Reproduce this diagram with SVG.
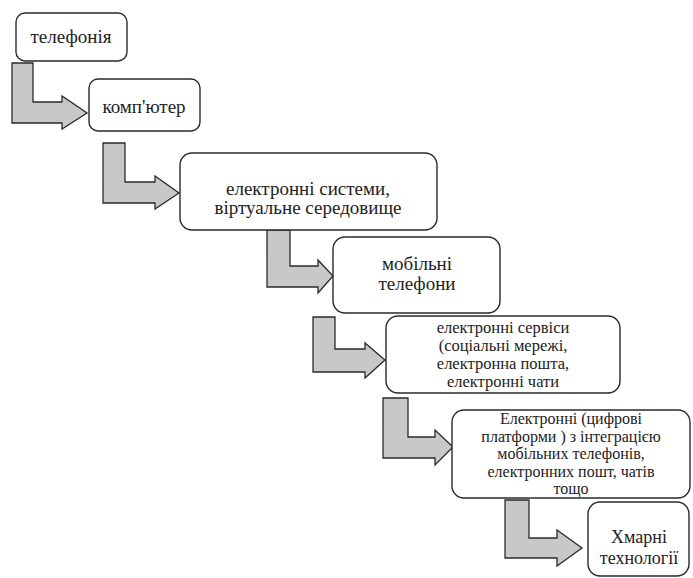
<svg xmlns="http://www.w3.org/2000/svg" width="693" height="578" viewBox="0 0 693 578">
<style>
.box{fill:#fff;stroke:#2a2a2a;stroke-width:1.4}
.arr{fill:#c8c8c8;stroke:#2a2a2a;stroke-width:1.3;stroke-linejoin:miter}
text{font-family:"Liberation Serif","Times New Roman","DejaVu Serif",serif;font-size:18px;fill:#222;text-anchor:middle}
.big{font-size:19px}
.s5{font-size:16.5px}
.s6{font-size:16px}
</style>
<rect width="693" height="578" fill="#fff"/>
<g id="connectors">
<path class="arr" d="M12,63 L33,63 L33,102 L62,102 L62,96 L87,113 L62,129 L62,123 L12,123 Z"/>
<path class="arr" d="M103,143 L125,143 L125,182 L155,182 L155,176 L179,193 L155,209 L155,203 L103,203 Z"/>
<path class="arr" d="M267,230 L290,230 L290,266 L318,266 L318,260 L333,276 L318,293 L318,287 L267,287 Z"/>
<path class="arr" d="M313,317 L335,317 L335,349 L365,349 L365,343 L385,360 L365,378 L365,372 L313,372 Z"/>
<path class="arr" d="M383,398 L408,398 L408,437 L435,437 L435,430 L453,447 L435,465 L435,458 L383,458 Z"/>
<path class="arr" d="M505,500 L529,500 L529,538 L557,538 L557,530 L582,548 L557,566 L557,558 L505,558 Z"/>
</g>
<g id="n1">
<rect class="box" x="16" y="13" width="111" height="48" rx="9"/>
<text class="big" x="71" y="43">телефонія</text>
</g>
<g id="n2">
<rect class="box" x="89" y="79" width="111" height="52" rx="9"/>
<text class="big" x="144" y="113">комп'ютер</text>
</g>
<g id="n3">
<rect class="box" x="180" y="153" width="257" height="77" rx="12"/>
<text class="big" x="308" y="195">електронні системи,</text>
<text class="big" x="308" y="214">віртуальне середовище</text>
</g>
<g id="n4">
<rect class="box" x="333" y="237" width="167" height="76" rx="12"/>
<text class="big" x="417" y="270">мобільні</text>
<text class="big" x="417" y="290">телефони</text>
</g>
<g id="n5">
<rect class="box" x="386" y="316" width="234" height="77" rx="12"/>
<text class="s5" x="503" y="333">електронні сервіси</text>
<text class="s5" x="503" y="351">(соціальні мережі,</text>
<text class="s5" x="503" y="369">електронна пошта,</text>
<text class="s5" x="503" y="387">електронні чати</text>
</g>
<g id="n6">
<rect class="box" x="452" y="410" width="238" height="88" rx="12"/>
<text class="s6" x="571" y="424">Електронні (цифрові</text>
<text class="s6" x="571" y="441.5">платформи ) з інтеграцією</text>
<text class="s6" x="571" y="459">мобільних телефонів,</text>
<text class="s6" x="571" y="476.5">електронних пошт, чатів</text>
<text class="s6" x="571" y="494">тощо</text>
</g>
<g id="n7">
<rect class="box" x="588" y="502" width="101" height="74" rx="12"/>
<text x="639" y="543">Хмарні</text>
<text x="639" y="564">технології</text>
</g>
</svg>
